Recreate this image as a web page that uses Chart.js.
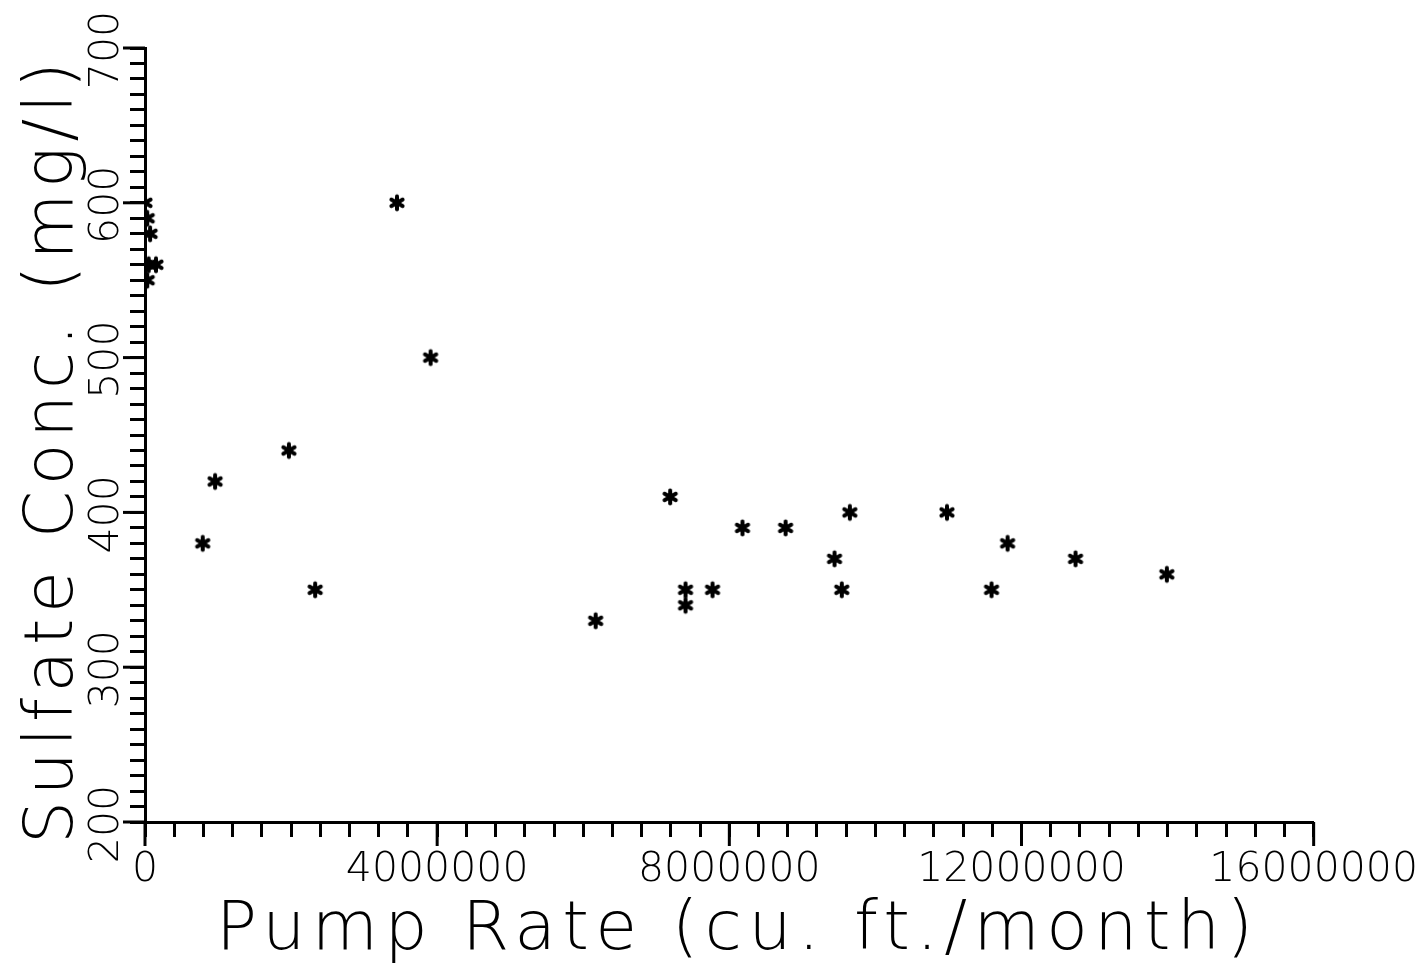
<!DOCTYPE html>
<html>
<head>
<meta charset="utf-8">
<script src="https://cdn.jsdelivr.net/npm/chart.js@4.4.0/dist/chart.umd.min.js"></script>
<style>
html,body{margin:0;padding:0;background:#fff;}
#wrap{width:1427px;height:969px;}
</style>
</head>
<body>
<div id="wrap"><canvas id="c" width="1427" height="969"></canvas></div>
<script>
// ---- data ----
const pumpRate = [0, 30000, 70000, 50000, 150000, 30000, 790000, 960000, 1970000, 2330000, 3450000, 3910000,
  6170000, 7190000, 7400000, 7400000, 7770000, 8180000, 8770000, 9440000, 9540000, 9650000,
  10980000, 11590000, 11810000, 12740000, 13990000];
const sulfate = [600, 590, 580, 560, 560, 550, 380, 420, 440, 350, 600, 500,
  330, 410, 350, 340, 350, 390, 390, 370, 350, 400,
  400, 350, 380, 370, 360];
const xLabeledTicks = [0, 4000000, 8000000, 12000000, 16000000];
const yLabeledTicks = [200, 300, 400, 500, 600, 700];
const xTitle = 'Pump Rate (cu. ft./month)';
const yTitle = 'Sulfate Conc. (mg/l)';

const FONT = '"DejaVu Sans"';

function makeAsterisk(size, r, lw) {
  const c = document.createElement('canvas');
  c.width = size; c.height = size;
  const g = c.getContext('2d');
  g.strokeStyle = '#000'; g.lineWidth = lw; g.lineCap = 'round';
  const m = size / 2;
  for (let k = 0; k < 3; k++) {
    const a = Math.PI / 2 + k * Math.PI / 3;
    g.beginPath();
    g.moveTo(m - r * Math.cos(a), m - r * Math.sin(a));
    g.lineTo(m + r * Math.cos(a), m + r * Math.sin(a));
    g.stroke();
  }
  return c;
}
const star = makeAsterisk(20, 6.5, 4);

const points = pumpRate.map((x, i) => ({x: x, y: sulfate[i]}));

function spacedText(ctx, text, target) {
  ctx.letterSpacing = '0px';
  const w0 = ctx.measureText(text).width;
  const s = (target - w0) / (text.length - 1);
  ctx.letterSpacing = s.toFixed(2) + 'px';
  ctx.fillText(text, 0, 0);
}

const decoPlugin = {
  id: 'deco',
  afterDraw(chart) {
    const ctx = chart.ctx;
    const xs = chart.scales.x, ys = chart.scales.y;
    ctx.save();
    ctx.strokeStyle = '#000';
    ctx.lineWidth = 3;
    // longer major ticks
    xLabeledTicks.forEach(v => {
      const px = xs.getPixelForValue(v);
      ctx.beginPath(); ctx.moveTo(px, xs.top); ctx.lineTo(px, xs.top + 24); ctx.stroke();
    });
    yLabeledTicks.forEach(v => {
      const py = ys.getPixelForValue(v);
      ctx.beginPath(); ctx.moveTo(ys.right, py); ctx.lineTo(ys.right - 22, py); ctx.stroke();
    });
    // rotated y tick labels
    ctx.fillStyle = '#000';
    ctx.font = '200 41px ' + FONT;
    ctx.textAlign = 'center';
    ctx.textBaseline = 'alphabetic';
    yLabeledTicks.forEach(v => {
      const py = ys.getPixelForValue(v);
      ctx.save();
      ctx.translate(118, py + 2);
      ctx.rotate(-Math.PI / 2);
      ctx.fillText(String(v), 0, 0);
      ctx.restore();
    });
    // axis titles
    ctx.font = '200 68px ' + FONT;
    ctx.textAlign = 'left';
    ctx.textBaseline = 'alphabetic';
    ctx.save();
    ctx.translate(216, 949);
    spacedText(ctx, xTitle, 1037);
    ctx.restore();
    ctx.save();
    ctx.translate(72, 844);
    ctx.rotate(-Math.PI / 2);
    spacedText(ctx, yTitle, 782);
    ctx.restore();
    ctx.restore();
  }
};

const bgPlugin = {
  id: 'bg',
  beforeDraw(chart) {
    const ctx = chart.ctx;
    ctx.save(); ctx.fillStyle = '#fff'; ctx.fillRect(0, 0, chart.width, chart.height); ctx.restore();
  }
};

new Chart(document.getElementById('c'), {
  type: 'scatter',
  data: {
    datasets: [{
      data: points,
      pointStyle: star,
      pointRadius: 10,
      pointHoverRadius: 10
    }]
  },
  options: {
    responsive: false,
    animation: false,
    devicePixelRatio: 1,
    layout: {padding: {top: 48, right: 113, left: 0, bottom: 0}},
    plugins: {legend: {display: false}, tooltip: {enabled: false}},
    scales: {
      x: {
        type: 'linear',
        min: 0, max: 16000000,
        afterFit(s) { s.height = 147; },
        grid: {drawOnChartArea: false, drawTicks: true, tickLength: 15, tickWidth: 3, tickColor: '#000'},
        border: {display: true, color: '#000', width: 3},
        ticks: {
          stepSize: 400000,
          autoSkip: false,
          maxRotation: 0, minRotation: 0,
          padding: 9,
          color: '#000',
          font: {family: FONT, size: 41, weight: 200},
          callback: (v) => xLabeledTicks.includes(v) ? String(v) : ''
        },
        title: {display: false}
      },
      y: {
        type: 'linear',
        min: 200, max: 700,
        afterFit(s) { s.width = 145; },
        grid: {drawOnChartArea: false, drawTicks: true, tickLength: 15, tickWidth: 3, tickColor: '#000'},
        border: {display: true, color: '#000', width: 3},
        ticks: {stepSize: 10, autoSkip: false, display: false},
        title: {display: false}
      }
    }
  },
  plugins: [bgPlugin, decoPlugin]
});
</script>
</body>
</html>
